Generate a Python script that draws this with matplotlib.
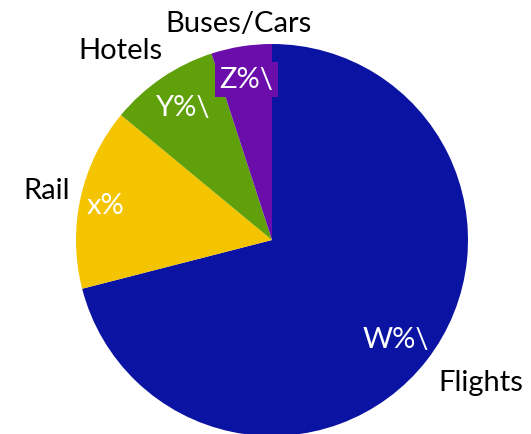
import numpy as np
import matplotlib
matplotlib.use("Agg")
import matplotlib.pyplot as plt

categories = ["Flights", "Rail", "Hotels", "Buses/Cars"]
values = [71, 15, 9, 5]
inner_labels = ["W%\\", "x%", "Y%\\", "Z%\\"]

colors = ["#0B14A2", "#F5C400", "#5FA00B", "#6A0DAB"]
outer_pos = [(-34.3, 1.29), (167.5, 1.18), (128.5, 1.24), (98.8, 1.12)]
inner_pos = [(-38.8, 0.81), (168.0, 0.87), (124.0, 0.82), (99.0, 0.83)]

plt.rcParams['font.family'] = ['Lato', 'DejaVu Sans']

W, H = 531, 435
fig = plt.figure(figsize=(W / 100, H / 100), dpi=100)
ax = fig.add_axes([0, 0, 1, 1])
R = 196.0
cx, cy = 272.0, 241.0

wedges, _ = ax.pie(values, colors=colors, startangle=90, counterclock=False,
                   radius=1.0, center=(0, 0), frame=False,
                   wedgeprops=dict(linewidth=0, edgecolor='none'))
ax.set_xlim(-cx / R, (W - cx) / R)
ax.set_ylim(-(H - cy) / R, cy / R)
ax.set_aspect('auto')
ax.axis('off')

for i, w in enumerate(wedges):
    a, d = outer_pos[i]
    t = np.deg2rad(a)
    ax.text(d * np.cos(t), d * np.sin(t), categories[i], ha='center', va='center',
            fontsize=21, color='black')
    a, d = inner_pos[i]
    t = np.deg2rad(a)
    kw = {}
    if i == 3:
        kw['bbox'] = dict(boxstyle='square,pad=0.15', facecolor=colors[3], edgecolor='none')
    ax.text(d * np.cos(t), d * np.sin(t), inner_labels[i], ha='center', va='center',
            fontsize=21, color='white', **kw)

fig.savefig("out.png", dpi=100)
